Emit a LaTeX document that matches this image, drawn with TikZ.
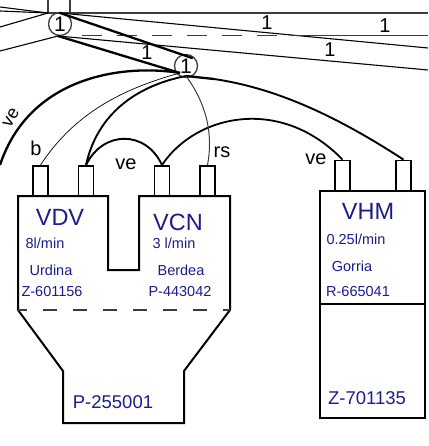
\documentclass[tikz,border=0pt]{standalone}
\usepackage{fontspec}
\setmainfont{Liberation Sans}
\definecolor{tagblue}{RGB}{28,28,140}
\definecolor{linegrey}{RGB}{60,60,60}
\tikzset{
  pin/.style={draw,line width=1.8pt,minimum width=15pt,minimum height=30pt,inner sep=0pt},
  valve/.style={draw=linegrey,circle,line width=1.3pt,minimum size=23pt,inner sep=0pt,font=\fontsize{21}{21}\selectfont},
  lab/.style={inner sep=0pt,font=\fontsize{20}{20}\selectfont},
  num/.style={inner sep=0pt,font=\fontsize{20}{20}\selectfont},
  bigtag/.style={inner sep=0pt,text=tagblue,font=\fontsize{23.5}{23.5}\selectfont},
  midtag/.style={inner sep=0pt,text=tagblue,font=\fontsize{18.5}{18.5}\selectfont},
  smalltag/.style={inner sep=0pt,text=tagblue,font=\fontsize{14.5}{14.5}\selectfont},
  thin line/.style={line width=1.1pt},
  main line/.style={line width=2.3pt},
  tank line/.style={line width=2pt,line join=miter}
}
\begin{document}
\begin{tikzpicture}[x=1pt,y=-1pt]
  \useasboundingbox (0,0) rectangle (428,446);
  % junctions
  \node[valve] (v1) at (60,24) {1};
  \node[valve] (v2) at (186,66) {1};
  \coordinate (v1t) at (60,13);
  \coordinate (v1b) at (58,36);
  \coordinate (v2t) at (192,58);
  \coordinate (v2b) at (180,73);
  \coordinate (v2c) at (186,76);
  \coordinate (v2r) at (214,79);
  % pipe stub and lines at the top
  \coordinate (stubl) at (48,13);
  \coordinate (stubr) at (70,13);
  \coordinate (stubla) at (48,0);
  \coordinate (stubra) at (70,0);
  \coordinate (w1) at (0,7);
  \coordinate (w2) at (0,11);
  \coordinate (w3) at (0,27);
  \coordinate (w4) at (0,51);
  \coordinate (e1) at (428,13);
  \coordinate (e2) at (428,48);
  \coordinate (e3) at (428,70);
  \coordinate (e4) at (428,35.5);
  \coordinate (d1) at (82,35.5);
  \coordinate (d2) at (290,35.5);
  \coordinate (e5) at (0,165);
  \begin{scope}[thin line,linegrey]
    \draw (stubla) -- (stubl);
    \draw (stubra) -- (stubr);
    \draw[line width=1.5pt] (stubl) -- (e1);
  \end{scope}
  \begin{scope}[thin line]
    \draw (w1) -- (stubl);
    \draw (w2) -- (stubl);
    \draw (w3) -- (stubl);
    \draw (w4) -- (v1b);
    \draw (v1t) -- (e2);
    \draw (v1b) -- (e3);
    \draw[linegrey,line width=1.3pt,dash pattern=on 20pt off 15pt] (d1) -- (d2);
    \draw[linegrey,line width=1.3pt] (d2) -- (e4);
  \end{scope}
  \begin{scope}[main line]
    \draw[line cap=round] (v1t) -- (v2t);
    \draw (v1b) -- (v2b);
    \draw (v2c) -- (v2r);
  \end{scope}
  % vessels
  \draw[tank line] (18,196) -- (108,196) -- (108,270) -- (139,270) -- (139,196) -- (230,196)
    -- (230,310) -- (184,371) -- (184,423) -- (63,423) -- (63,371) -- (18,310) -- cycle;
  \draw[linegrey,line width=1.3pt,dash pattern=on 14pt off 16pt,dash phase=5pt] (18,310) -- (230,310);
  \draw[tank line] (320,191) rectangle (425,418);
  \draw[tank line] (320,304) -- (425,304);
  % pins
  \node[pin] (p1) at (40.5,181) {};
  \node[pin] (p2) at (86,181) {};
  \node[pin] (p3) at (162,181) {};
  \node[pin] (p4) at (207.5,181) {};
  \node[pin] (p5) at (342.5,175.5) {};
  \node[pin] (p6) at (403.5,175.5) {};
  % pipes
  \begin{scope}[main line]
    \draw (v2b) .. controls (125,64) and (30,75) .. (e5);
    \draw[line width=1.9pt] (v2c) .. controls (135,86) and (97,115) .. (p2.north);
    \draw[line width=1.9pt] (p2.north) .. controls (103,130) and (146,130) .. (p3.north);
    \draw[line width=1.8pt] (p3.north) .. controls (195,115) and (280,95) .. (p5.north);
    \draw[line width=1.9pt] (v2r) .. controls (275,88) and (335,115) .. (p6.north);
  \end{scope}
  \draw[line width=0.7pt] (v2b) .. controls (125,88) and (75,112) .. (p1.north);
  \draw[linegrey,line width=1pt] (v2c) .. controls (200,95) and (215,125) .. (p4.north);
  % labels
  \node[num] (n1) at (147,53) {1};
  \node[num] (n2) at (267,23) {1};
  \node[num] (n3) at (385,26) {1};
  \node[num] (n4) at (330,50) {1};
  \node[lab] (l1) at (36,148) {b};
  \node[lab] (l2) at (126,164) {ve};
  \node[lab] (l3) at (222,152) {rs};
  \node[lab] (l4) at (316,159) {ve};
  \node[lab,rotate=60,font=\fontsize{18}{18}\selectfont] (l5) at (11,118) {ve};
  % tags
  \node[bigtag] (t1) at (60,217) {VDV};
  \node[smalltag] (t2) at (45,243) {8l/min};
  \node[smalltag] (t3) at (51,270) {Urdina};
  \node[smalltag] (t4) at (52,292) {Z-601156};
  \node[bigtag] (t5) at (178,222) {VCN};
  \node[smalltag] (t6) at (174,243) {3 l/min};
  \node[smalltag] (t7) at (181,270) {Berdea};
  \node[smalltag] (t8) at (180,292) {P-443042};
  \node[midtag] (t9) at (113,402) {P-255001};
  \node[bigtag] (t10) at (368,211) {VHM};
  \node[smalltag] (t11) at (356,239) {0.25l/min};
  \node[smalltag] (t12) at (352,266) {Gorria};
  \node[smalltag] (t13) at (358,292) {R-665041};
  \node[midtag] (t14) at (367,398) {Z-701135};
\end{tikzpicture}
\end{document}
